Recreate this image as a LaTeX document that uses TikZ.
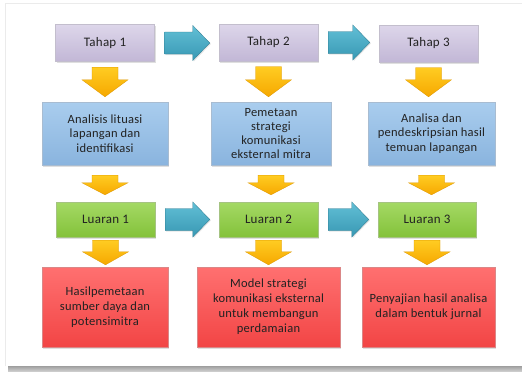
\documentclass[tikz,border=0pt]{standalone}
\usepackage{fontspec}
\setmainfont{Carlito}[LetterSpace=2]
\usetikzlibrary{calc,shadows}
\definecolor{lavT}{HTML}{DDD6EA}
\definecolor{lavB}{HTML}{C2B7D6}
\definecolor{bluT}{HTML}{A9CDEE}
\definecolor{bluB}{HTML}{8AB4DE}
\definecolor{grnT}{HTML}{A4D965}
\definecolor{grnB}{HTML}{84C23A}
\definecolor{redT}{HTML}{FF7070}
\definecolor{redB}{HTML}{F24545}
\definecolor{cyaT}{HTML}{62BFD6}
\definecolor{cyaB}{HTML}{3898B3}
\definecolor{yelT}{HTML}{FFCC22}
\definecolor{yelB}{HTML}{F6A800}
\definecolor{txt}{HTML}{222222}
\tikzset{
  box/.style={rectangle, inner sep=2pt, align=center, text=txt,
    font=\fontsize{12.5}{15}\selectfont,
    drop shadow={opacity=0.25, shadow xshift=1pt, shadow yshift=-1.5pt}},
  tahapbox/.style={box, top color=lavT, bottom color=lavB, draw=lavB!80!black!60,
    minimum width=99pt, minimum height=37pt, font=\fontsize{13}{15}\selectfont},
  bluebox/.style={box, top color=bluT, bottom color=bluB, draw=bluB!80!black!60,
    minimum height=63pt, font=\fontsize{12.5}{14.3}\selectfont},
  greenbox/.style={box, top color=grnT, bottom color=grnB, draw=grnB!80!black!60,
    minimum width=99pt, minimum height=35pt, font=\fontsize{13}{15}\selectfont},
  redbox/.style={box, top color=redT, bottom color=redB, draw=redB!80!black!60,
    minimum height=80pt},
  yarr/.style={top color=yelT, bottom color=yelB, draw=yelB!90!black, line width=0.3pt},
  carr/.style={top color=cyaT, bottom color=cyaB, draw=cyaB!80!black, line width=0.3pt,
    drop shadow={opacity=0.2, shadow xshift=1pt, shadow yshift=-1pt}},
}
% #1 from, #2 to, #3 gap below source, #4 gap above target, #5 head length
\newcommand\yarrow[5]{%
  \path let \p1=($(#1.south)+(0pt,-#3pt)$), \p2=($(#2.north)+(0pt,#4pt)$) in
    [yarr] (\x1-13pt,\y1) -- (\x1+13pt,\y1) -- (\x1+13pt,\y2+#5pt)
    -- (\x1+23pt,\y2+#5pt) -- (\x1,\y2) -- (\x1-23pt,\y2+#5pt)
    -- (\x1-13pt,\y2+#5pt) -- cycle;}
\newcommand\carrow[2]{%
  \path let \p1=($(#1.east)+(10pt,0pt)$), \p2=($(#2.west)+(-9pt,0pt)$) in
    [carr] (\x1,\y1+11pt) -- (\x2-17pt,\y1+11pt) -- (\x2-17pt,\y1+17.5pt)
    -- (\x2,\y1) -- (\x2-17pt,\y1-17.5pt) -- (\x2-17pt,\y1-11pt)
    -- (\x1,\y1-11pt) -- cycle;}
\begin{document}
\begin{tikzpicture}[x=1pt,y=-1pt]
\useasboundingbox (0,0) rectangle (522,372);
\fill[white] (0,0) rectangle (522,372);
% panel with bottom shadow
\shade[top color=black!45, bottom color=black!20] (8,364) rectangle (522,371);
\fill[white] (5,3) rectangle (522,366);
\draw[black!8] (5,366) -- (5,3) -- (522,3);
% row 1
\node[tahapbox] (t1) at (105,43) {Tahap 1};
\node[tahapbox] (t2) at (268.5,42.5) {Tahap 2};
\node[tahapbox] (t3) at (428.5,43.5) {Tahap 3};
% row 2
\node[bluebox, minimum width=126pt] (b1) at (105,133.5) {Analisis lituasi\\lapangan dan\\identifikasi};
\node[bluebox, minimum width=120pt] (b2) at (271,133.5) {Pemetaan\\strategi\\komunikasi\\eksternal mitra};
\node[bluebox, minimum width=127pt] (b3) at (431.5,133.5) {Analisa dan\\pendeskripsian hasil\\temuan lapangan};
% row 3
\node[greenbox] (g1) at (105.5,219.5) {Luaran 1};
\node[greenbox] (g2) at (268.5,219.5) {Luaran 2};
\node[greenbox, minimum width=98pt] (g3) at (427,219.5) {Luaran 3};
% row 4
\node[redbox, minimum width=126pt] (r1) at (105,307) {Hasilpemetaan\\sumber daya dan\\potensimitra};
\node[redbox, minimum width=143pt] (r2) at (268.5,307) {Model strategi\\komunikasi eksternal\\untuk membangun\\perdamaian};
\node[redbox, minimum width=133pt] (r3) at (428.5,307) {Penyajian hasil analisa\\dalam bentuk jurnal};
% horizontal arrows
\carrow{t1}{t2}
\carrow{t2}{t3}
\carrow{g1}{g2}
\carrow{g2}{g3}
% vertical arrows
\yarrow{t1}{b1}{5.5}{5}{17}
\yarrow{t2}{b2}{5.5}{5}{17}
\yarrow{t3}{b3}{5.5}{5}{17}
\yarrow{b1}{g1}{10}{7}{12}
\yarrow{b2}{g2}{10}{7}{12}
\yarrow{b3}{g3}{10}{7}{12}
\yarrow{g1}{r1}{3}{2}{13}
\yarrow{g2}{r2}{3}{2}{13}
\yarrow{g3}{r3}{3}{2}{13}
\end{tikzpicture}
\end{document}
